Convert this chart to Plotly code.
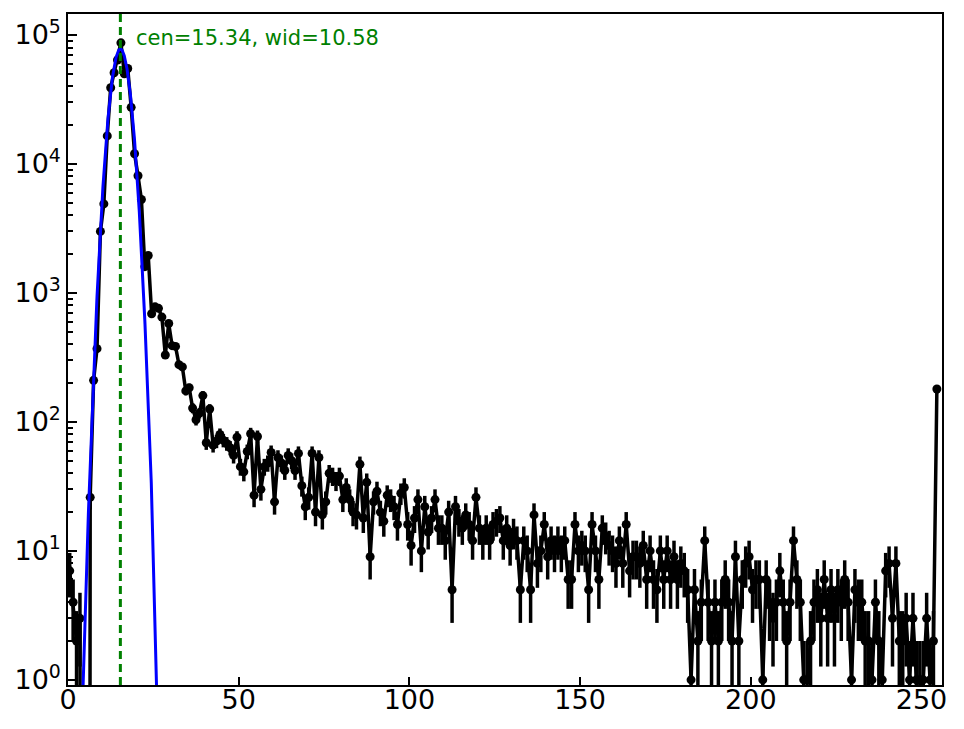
import numpy as np
import plotly.graph_objects as go

# histogram counts per ADC bin (bins 0..254, plotted at bin centres)
counts = [
    7, 4, 2, 3, 0, 0, 26, 210, 370, 3000,
    4900, 16500, 39000, 51000, 64000, 87000, 50000, 55000, 27500, 12000,
    8100, 5300, 1600, 1950, 690, 780, 760, 650, 330, 580,
    390, 385, 278, 267, 174, 184, 128, 104, 117, 160,
    69, 126, 66, 71, 80, 72, 68, 63, 55, 76,
    45, 41, 59, 81, 27, 77, 30, 45, 48, 58,
    24, 53, 48, 42, 55, 50, 42, 57, 32, 22,
    26, 57, 20, 53, 19, 24, 40, 38, 35, 38,
    25, 31, 25, 20, 19, 47, 18, 34, 9, 24,
    29, 20, 17, 27, 25, 22, 16, 28, 31, 16,
    11, 18, 25, 10, 22, 14, 18, 25, 15, 15,
    12, 20, 5, 22, 17, 15, 19, 16, 12, 26,
    15, 12, 15, 12, 16, 17, 18, 12, 15, 11,
    14, 12, 5, 12, 10, 5, 19, 8, 10, 16,
    9, 12, 10, 12, 10, 12, 6, 6, 16, 10,
    11, 10, 5, 16, 10, 6, 15, 13, 11, 10,
    8, 12, 8, 16, 7, 9, 9, 8, 11, 6,
    10, 6, 5, 10, 6, 10, 6, 9, 6, 8,
    7, 5, 1, 5, 2, 4, 12, 4, 2, 4,
    2, 4, 6, 4, 2, 9, 2, 6, 8, 9,
    5, 6, 6, 1, 6, 4, 3, 4, 7, 4,
    2, 4, 12, 6, 4, 1, 1, 2, 4, 5,
    3, 6, 3, 5, 3, 5, 4, 6, 4, 1,
    5, 4, 4, 2, 2, 1, 4, 2, 1, 7,
    8, 3, 8, 2, 2, 3, 1, 3, 1, 1,
    1, 3, 1, 2, 180,
]
bins = np.arange(len(counts)) + 0.5

# gaussian fit parameters
cen = 15.34
wid = 10.58
amp = 78000

xticks = [0, 50, 100, 150, 200, 250]
yticks = [1, 10, 100, 1000, 10000, 100000]
yticklabels = ["10<sup>0</sup>", "10<sup>1</sup>", "10<sup>2</sup>",
               "10<sup>3</sup>", "10<sup>4</sup>", "10<sup>5</sup>"]

counts = np.array(counts, dtype=float)
err = np.sqrt(counts)
yplot = np.where(counts > 0, counts, 1e-30)

xfit = np.arange(0, 35, 0.05)
yfit = amp * np.exp(-(xfit - cen) ** 2 / wid)

fig = go.Figure()
fig.add_trace(go.Scatter(
    x=bins, y=yplot, mode="lines+markers",
    line=dict(color="black", width=3.5),
    marker=dict(color="black", size=9),
    error_y=dict(type="data", array=err, color="black", thickness=3.5, width=0),
    showlegend=False,
))
fig.add_trace(go.Scatter(
    x=xfit, y=yfit, mode="lines",
    line=dict(color="#0000ff", width=3),
    showlegend=False,
))
fig.add_shape(type="line", x0=cen, x1=cen, y0=0, y1=1, xref="x", yref="paper",
              line=dict(color="green", width=3, dash="8px,5px"))
fig.add_annotation(x=19.3, y=4.98, xref="x", yref="y", xanchor="left", yanchor="middle",
                   text=f"cen={cen:.2f}, wid={wid:.2f}", showarrow=False,
                   font=dict(color="green", size=21, family="DejaVu Sans"))

# page body adds an 8px margin, so the figure is 16px smaller than the window
fig.update_layout(
    width=948, height=713,
    margin=dict(l=60, r=14, t=6, b=36),
    plot_bgcolor="white", paper_bgcolor="white",
    font=dict(family="DejaVu Sans", size=27, color="black"),
)
fig.update_xaxes(
    range=[0, 256], tickvals=xticks, automargin=False, ticklabelstandoff=-10,
    ticks="inside", ticklen=8, tickwidth=1.5, tickcolor="black",
    showline=True, linecolor="black", linewidth=1.5, mirror=True,
    showgrid=False, zeroline=False,
)
fig.update_yaxes(
    type="log", range=[-0.04, 5.163], tickvals=yticks, ticktext=yticklabels,
    automargin=False,
    ticks="inside", ticklen=9, tickwidth=1.5, tickcolor="black",
    minor=dict(ticks="inside", ticklen=5, tickcolor="black", showgrid=False,
               tickvals=[m * d for d in yticks[:-1] for m in range(2, 10)]),
    showline=True, linecolor="black", linewidth=1.5, mirror=True,
    showgrid=False, zeroline=False,
)

fig.write_html("out.html")
